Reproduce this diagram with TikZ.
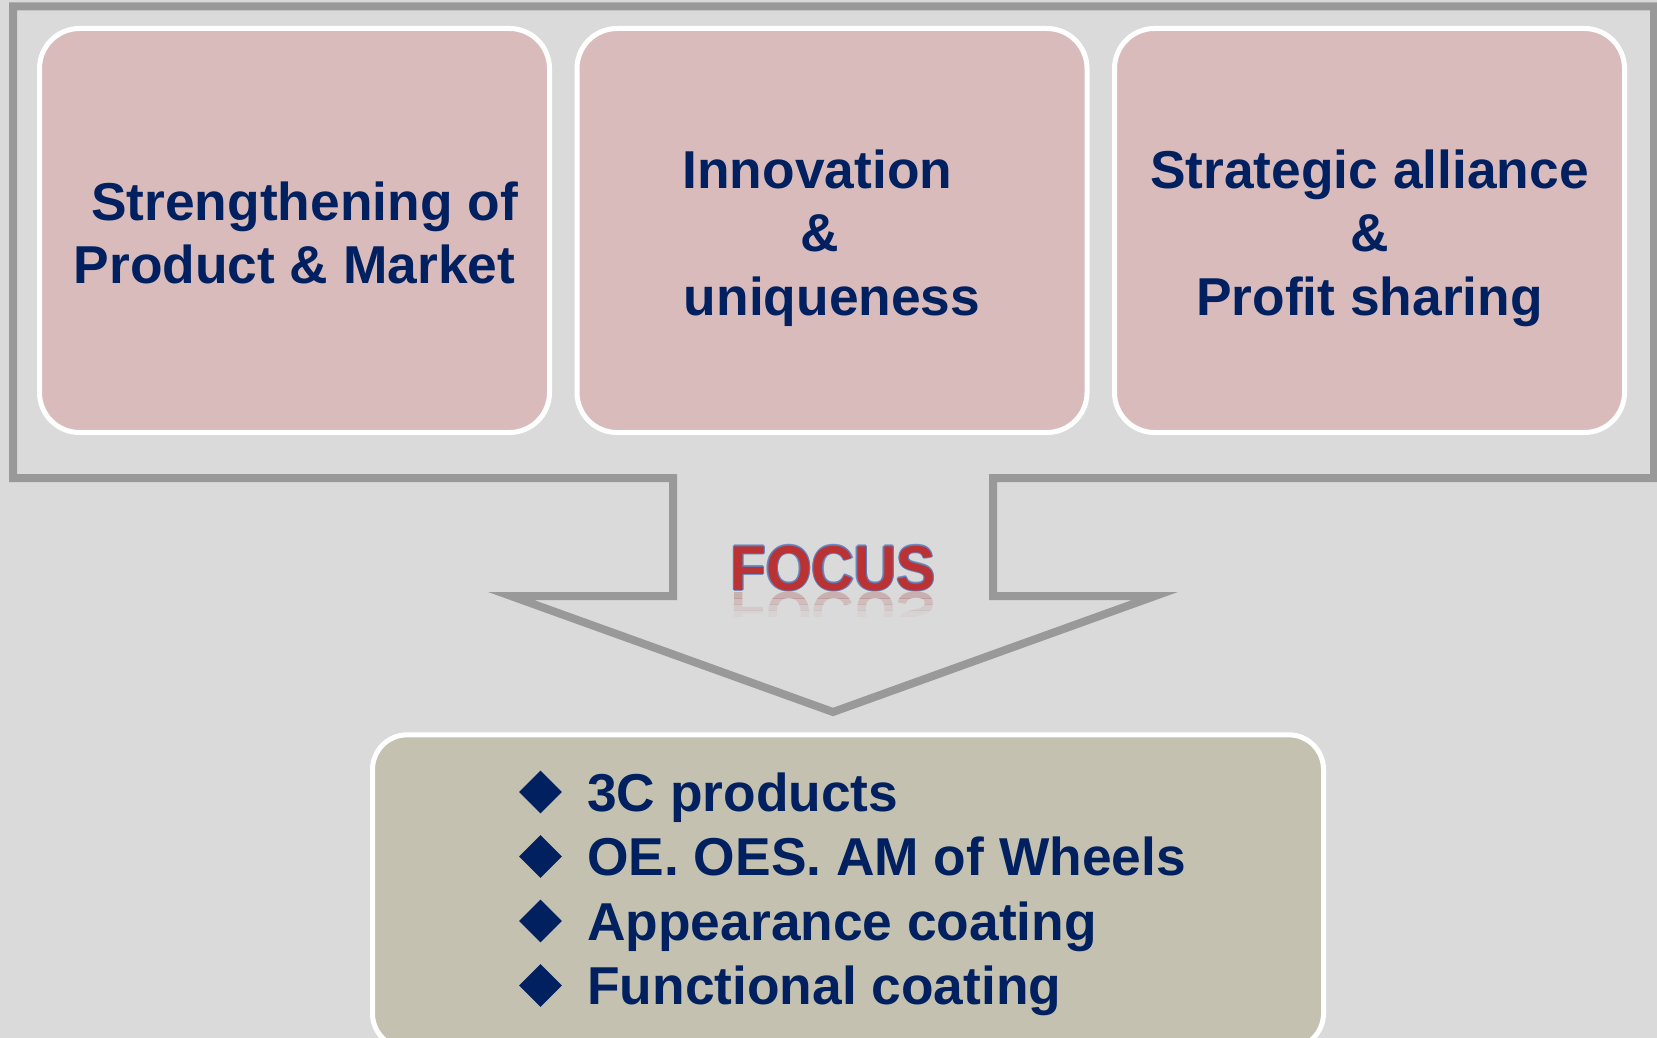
\documentclass[tikz,border=0pt]{standalone}
\usepackage{fontspec}
\setmainfont{Liberation Sans}
\usetikzlibrary{shapes.geometric}
\definecolor{bg}{RGB}{218,218,218}
\definecolor{framegray}{RGB}{153,153,153}
\definecolor{pinkfill}{RGB}{217,187,188}
\definecolor{khaki}{RGB}{196,193,176}
\definecolor{navy}{RGB}{0,32,96}
\definecolor{focusred}{RGB}{186,50,52}
\definecolor{focusblue}{RGB}{95,125,185}
\begin{document}
\begin{tikzpicture}[x=0.75pt,y=-0.75pt,
  topbox/.style={draw=white,line width=3.75pt,fill=pinkfill,rounded corners=30pt,
    minimum width=382.5pt,minimum height=303pt,inner sep=0pt},
  toptext/.style={inner sep=0pt,align=center,
    text=navy,font=\fontsize{40}{47.5}\selectfont\bfseries},
  listbox/.style={draw=white,line width=3.75pt,fill=khaki,rounded corners=26pt,
    minimum width=713.25pt,minimum height=235pt,inner sep=0pt},
  bulletd/.style={diamond,fill=navy,inner sep=0pt,minimum width=32.25pt,minimum height=32.25pt},
  itemtext/.style={anchor=base west,inner sep=0pt,text=navy,font=\fontsize{40}{48}\selectfont\bfseries},
  focusfont/.style={inner sep=0pt,anchor=base,font=\fontsize{44}{52}\selectfont\bfseries},
  framepath/.style={draw=framegray,line width=6pt,miter limit=10,line join=miter}]
\useasboundingbox (0,0) rectangle (1657,1038);
\clip (0,0) rectangle (1657,1038);
\fill[bg] (0,0) rectangle (1657,1038);

% frame with arrow
\draw[framepath] (13,6.5) -- (1654,6.5) -- (1654,478) -- (993,478) -- (993,596) -- (1155,596)
  -- (833,712) -- (511,596) -- (673,596) -- (673,478) -- (13,478) -- cycle;

% top boxes
\node[topbox] (b1) at (294.5,230.5) {};
\node[topbox] (b2) at (832,230.5) {};
\node[topbox] (b3) at (1369.5,230.5) {};
\node[toptext] (b1t) at (294.5,233) {\hspace*{15pt}Strengthening of\\Product \& Market};
\node[toptext] (b2t) at (832,238) {Innovation\hspace*{22pt}\\\makebox[46.8pt][l]{\&}\\uniqueness};
\node[toptext] (b3t) at (1369.5,238) {Strategic alliance\\\&\\Profit sharing};

% FOCUS label with outline and reflection
\foreach \dx/\dy [count=\i] in {-1.3/0,1.3/0,0/-1.3,0/1.3,-0.9/-0.9,0.9/0.9,-0.9/0.9,0.9/-0.9}{
  \node[focusfont,text=focusblue,opacity=0.8,yscale=1.08,transform shape] (fo\i) at (833+\dx,590+\dy) {FOCUS};
}
\node[focusfont,text=focusred,yscale=1.08,transform shape] (focus) at (833,590) {FOCUS};
\foreach \ya/\yb/\op [count=\j] in {592/598/0.3,598/604/0.2,604/610/0.11,610/616/0.05}{
  \begin{scope}
    \clip (700,\ya) rectangle (970,\yb);
    \begin{scope}[shift={(833,592)},yscale=-1]
      \node[focusfont,transform shape,text=focusred!60!gray,opacity=\op] (fr\j) at (0,0) {FOCUS};
    \end{scope}
  \end{scope}
}

% bottom box
\node[listbox] (lb) at (848,891.5) {};
\node[bulletd] (d1) at (540.5,792) {};
\node[bulletd] (d2) at (540.5,856.5) {};
\node[bulletd] (d3) at (540.5,921) {};
\node[bulletd] (d4) at (540.5,985.5) {};
\node[itemtext] (t1) at (587,811) {3C products};
\node[itemtext] (t2) at (587,875.5) {OE. OES. AM of Wheels};
\node[itemtext] (t3) at (587,940) {Appearance coating};
\node[itemtext] (t4) at (587,1004.5) {Functional coating};
\end{tikzpicture}
\end{document}
